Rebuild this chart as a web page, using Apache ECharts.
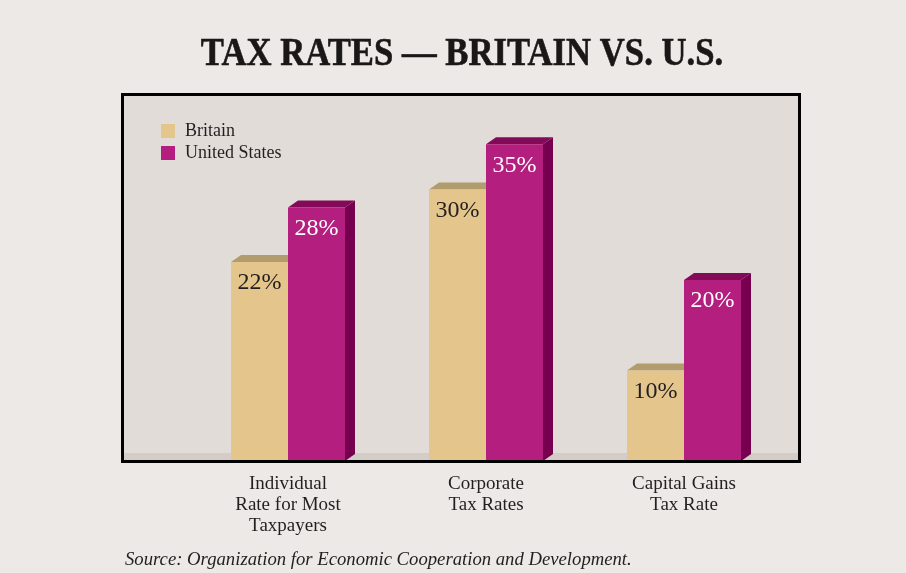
<!DOCTYPE html>
<html>
<head>
<meta charset="utf-8">
<script src="https://cdn.jsdelivr.net/npm/echarts@6/dist/echarts.min.js"></script>
<style>
  html, body { margin: 0; padding: 0; background: #ece9e6; }
  #chart { width: 906px; height: 573px; }
</style>
</head>
<body>
<div id="chart"></div>
<script>
// Tax rate categories and values (percent)
const categories = ['Individual\nRate for Most\nTaxpayers', 'Corporate\nTax Rates', 'Capital Gains\nTax Rate'];
const seriesNames = ['Britain', 'United States'];
const britain = [22, 30, 10];
const unitedStates = [28, 35, 20];

const SERIF = '"Liberation Serif", "Times New Roman", serif';
const TEXT = '#231f20';

// Face colours per series: front, top, side, label
const palette = [
  { front: '#e4c68d', top: '#b09c6c', side: '#9c8759', label: TEXT },
  { front: '#b41e7e', top: '#830a59', side: '#76004f', label: '#ffffff' }
];

const BAR_W = 57;   // front face width in px
const DX = 10, DY = -7; // 3D depth offset

function makeRender(si) {
  return function (params, api) {
    const cat = api.value(0), v = api.value(1);
    const topPt = api.coord([cat, v]);
    const basePt = api.coord([cat, 0]);
    const x0 = si === 0 ? topPt[0] - BAR_W : topPt[0];
    const x1 = x0 + BAR_W;
    const yt = topPt[1], yb = basePt[1];
    const c = palette[si];
    return {
      type: 'group',
      children: [
        { type: 'polygon', shape: { points: [[x1, yt], [x1 + DX, yt + DY], [x1 + DX, yb + DY], [x1, yb]] },
          style: { fill: c.side } },
        { type: 'polygon', shape: { points: [[x0, yt], [x0 + DX, yt + DY], [x1 + DX, yt + DY], [x1, yt]] },
          style: { fill: c.top } },
        { type: 'rect', shape: { x: x0, y: yt, width: BAR_W, height: yb - yt },
          style: { fill: c.front } },
        { type: 'text', x: (x0 + x1) / 2, y: yt + 21,
          style: { text: v + '%', fill: c.label, font: '24px ' + SERIF,
                   textAlign: 'center', textVerticalAlign: 'middle' } }
      ]
    };
  };
}

const chart = echarts.init(document.getElementById('chart'), null, { renderer: 'canvas' });

chart.setOption({
  backgroundColor: '#ece9e6',
  animation: false,
  graphic: [
    // plot panel fill
    { type: 'rect', z: -10, shape: { x: 122, y: 94, width: 678, height: 368 },
      style: { fill: '#e2dcd9' } },
    // floor strip
    { type: 'rect', z: -9, shape: { x: 122, y: 453, width: 678, height: 8 },
      style: { fill: '#d4ccc6' } },
    // panel border
    { type: 'rect', z: 100, shape: { x: 122.5, y: 94.5, width: 677, height: 367 },
      style: { fill: null, stroke: '#000', lineWidth: 3 } },
    // title
    { type: 'text', x: 462, y: 54, scaleX: 0.846, z: 100,
      style: { text: 'TAX RATES — BRITAIN VS. U.S.', fill: '#1a1717',
               font: 'bold 41px ' + SERIF, textAlign: 'center', textVerticalAlign: 'middle',
               stroke: '#1a1717', lineWidth: 0.6 } },
    // source note
    { type: 'text', x: 125, y: 560, z: 100,
      style: { text: 'Source: Organization for Economic Cooperation and Development.', fill: TEXT,
               font: 'italic 18.7px ' + SERIF, textAlign: 'left', textVerticalAlign: 'middle' } }
  ],
  legend: {
    data: seriesNames,
    orient: 'vertical',
    left: 156, top: 117,
    itemWidth: 14, itemHeight: 14, itemGap: 4,
    icon: 'rect',
    textStyle: { fontFamily: SERIF, fontSize: 18, color: TEXT, padding: [0, 0, 0, 5] },
    selectedMode: false
  },
  grid: { left: 189, right: 123, top: 99, bottom: 112 },
  xAxis: {
    type: 'category',
    data: categories,
    axisLine: { show: false },
    axisTick: { show: false },
    axisLabel: { fontFamily: SERIF, fontSize: 19, lineHeight: 21, color: TEXT, margin: 13, interval: 0 }
  },
  yAxis: {
    type: 'value', min: 0, max: 40,
    show: false
  },
  series: [
    { name: seriesNames[0], type: 'custom', renderItem: makeRender(0),
      itemStyle: { color: palette[0].front },
      encode: { x: 0, y: 1 },
      data: britain.map((v, i) => [i, v]) },
    { name: seriesNames[1], type: 'custom', renderItem: makeRender(1),
      itemStyle: { color: palette[1].front },
      encode: { x: 0, y: 1 },
      data: unitedStates.map((v, i) => [i, v]) }
  ]
});
</script>
</body>
</html>
